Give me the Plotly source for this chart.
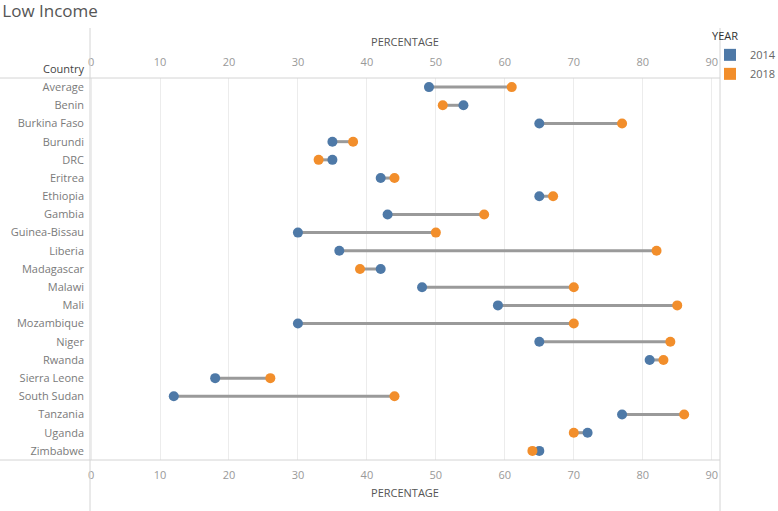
import plotly.graph_objects as go

countries = ["Average", "Benin", "Burkina Faso", "Burundi", "DRC", "Eritrea", "Ethiopia",
             "Gambia", "Guinea-Bissau", "Liberia", "Madagascar", "Malawi", "Mali",
             "Mozambique", "Niger", "Rwanda", "Sierra Leone", "South Sudan", "Tanzania",
             "Uganda", "Zimbabwe"]
values_2014 = [49, 54, 65, 35, 35, 42, 65, 43, 30, 36, 42, 48, 59, 30, 65, 81, 18, 12, 77, 72, 65]
values_2018 = [61, 51, 77, 38, 33, 44, 67, 57, 50, 82, 39, 70, 85, 70, 84, 83, 26, 44, 86, 70, 64]
x_ticks = [0, 10, 20, 30, 40, 50, 60, 70, 80, 90]

BLUE = "#4e79a7"
ORANGE = "#f28e2b"
FONT = "Open Sans"

fig = go.Figure()

# connecting segments
seg_x, seg_y = [], []
for c, a, b in zip(countries, values_2014, values_2018):
    seg_x += [a, b, None]
    seg_y += [c, c, None]
fig.add_trace(go.Scatter(x=seg_x, y=seg_y, mode="lines",
                         line=dict(color="#9a9a9a", width=3),
                         showlegend=False, hoverinfo="skip"))

fig.add_trace(go.Scatter(x=values_2014, y=countries, mode="markers", name="2014",
                         marker=dict(color=BLUE, size=10), showlegend=False))
fig.add_trace(go.Scatter(x=values_2018, y=countries, mode="markers", name="2018",
                         marker=dict(color=ORANGE, size=10), showlegend=False))

# legend entries (square swatches)
fig.add_trace(go.Scatter(x=[None], y=[None], mode="markers", name="2014",
                         marker=dict(color=BLUE, size=12, symbol="square")))
fig.add_trace(go.Scatter(x=[None], y=[None], mode="markers", name="2018",
                         marker=dict(color=ORANGE, size=12, symbol="square")))

# invisible trace to drive the bottom axis
fig.add_trace(go.Scatter(x=[None], y=[None], xaxis="x2", showlegend=False, hoverinfo="skip"))

xr = [-0.15, 91.2]
axis_common = dict(range=xr, tickvals=x_ticks, showgrid=True, gridcolor="#ececec",
                   gridwidth=1, zeroline=False, showline=False, ticks="",
                   tickfont=dict(family=FONT, size=11, color="#999999"),
                   title=dict(text="PERCENTAGE", font=dict(family=FONT, size=11, color="#555555")))

fig.update_layout(
    width=778, height=511,
    margin=dict(l=90, r=58, t=78, b=51, autoexpand=False),
    paper_bgcolor="white", plot_bgcolor="white",
    title=dict(text="Low Income", x=0.003, xanchor="left", y=0.99, yanchor="top",
               font=dict(family=FONT, size=17, color="#555555")),
    xaxis=dict(side="top", **axis_common, ticklabelstandoff=9, title_standoff=4),
    xaxis2=dict(overlaying="x", side="bottom", **axis_common, ticklabelstandoff=7,
                title_standoff=8),
    yaxis=dict(type="category", categoryorder="array", categoryarray=countries,
               range=[len(countries) - 0.5, -0.5], showgrid=False, zeroline=False,
               showline=False, ticks="", ticklabelstandoff=5,
               tickfont=dict(family=FONT, size=11, color="#7a7a7a")),
    legend=dict(title=dict(text="YEAR", font=dict(family=FONT, size=11, color="#333333")),
                x=620 / 630, xanchor="left", y=1.136, yanchor="top",
                font=dict(family=FONT, size=11, color="#666666"),
                itemwidth=30, tracegroupgap=0, bgcolor="rgba(0,0,0,0)"),
    showlegend=True,
    annotations=[dict(text="Country", xref="paper", yref="paper", x=0, y=1,
                      xanchor="right", yanchor="bottom", xshift=-4, yshift=0, showarrow=False,
                      font=dict(family=FONT, size=11, color="#444444"))],
    shapes=[
        dict(type="line", xref="paper", yref="paper", x0=-90/630, x1=1, y0=1, y1=1,
             line=dict(color="#d4d4d4", width=1)),
        dict(type="line", xref="paper", yref="paper", x0=-90/630, x1=1, y0=0, y1=0,
             line=dict(color="#d4d4d4", width=1)),
        dict(type="line", xref="paper", yref="paper", x0=0, x1=0, y0=-51/382, y1=1 + 50/382,
             line=dict(color="#d4d4d4", width=1)),
        dict(type="line", xref="paper", yref="paper", x0=1, x1=1, y0=-51/382, y1=1 + 50/382,
             line=dict(color="#d4d4d4", width=1)),
    ],
)

fig.write_html("out.html", config={"displayModeBar": False},
               post_script="document.body.style.margin='0';")
